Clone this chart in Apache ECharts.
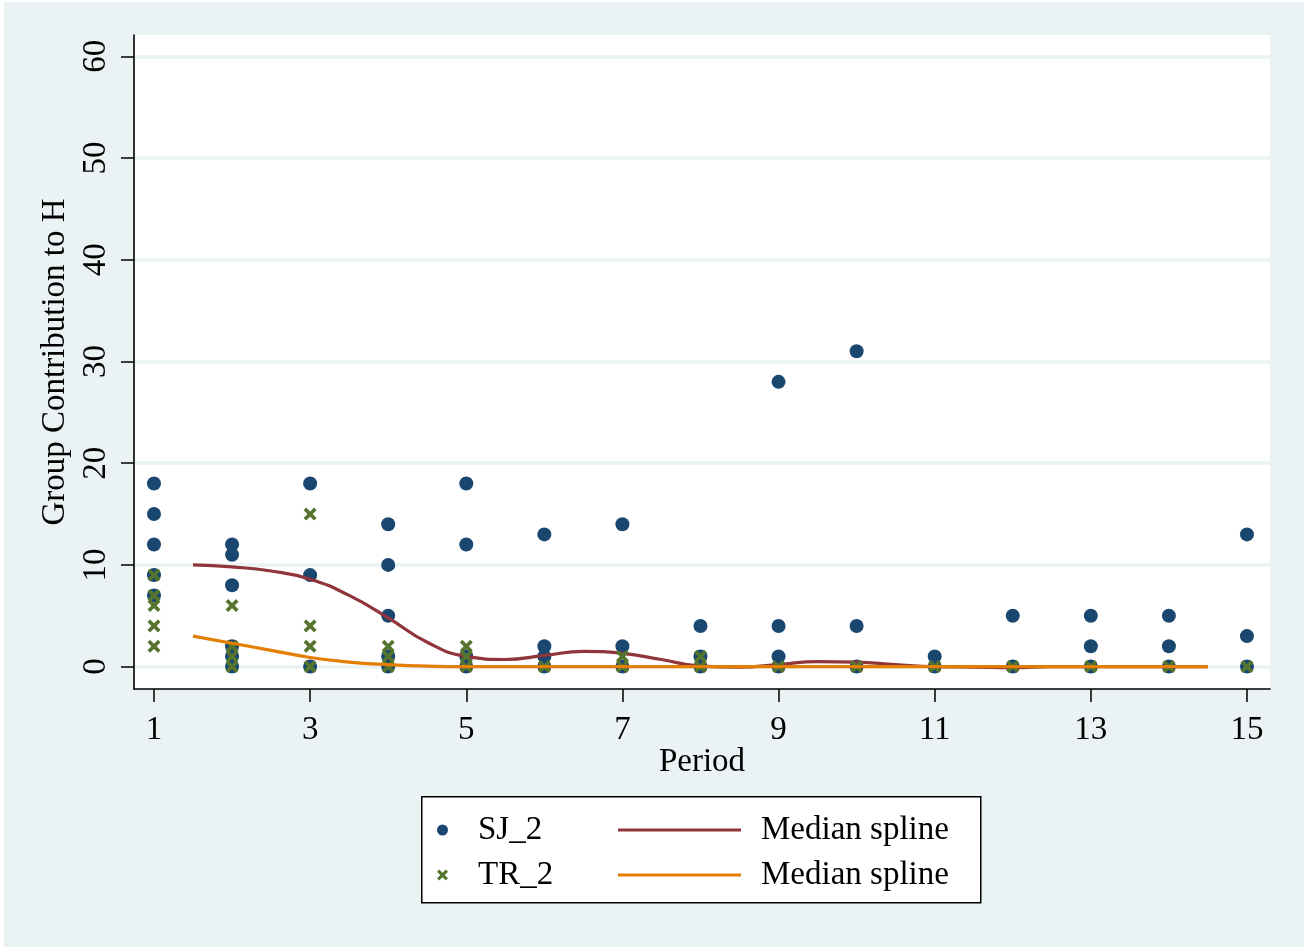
<!DOCTYPE html>
<html>
<head>
<meta charset="utf-8">
<script src="https://cdn.jsdelivr.net/npm/echarts@6/dist/echarts.min.js"></script>
<style>
  html, body { margin: 0; padding: 0; background: #ffffff; }
  #chart { position: absolute; left: 4px; top: 2px; width: 1300px; height: 945px; }
</style>
</head>
<body>
<div id="chart"></div>
<script>
// ---- data ----
const periods = [1, 2, 3, 4, 5, 6, 7, 8, 9, 10, 11, 12, 13, 14, 15];
const sjByPeriod = [
  [18, 15, 12, 9, 7],
  [12, 11, 8, 2, 1, 0],
  [18, 9, 0],
  [14, 10, 5, 1, 0],
  [18, 12, 1, 0],
  [13, 2, 1, 0],
  [14, 2, 0],
  [4, 1, 0],
  [28, 4, 1, 0],
  [31, 4, 0],
  [1, 0],
  [5, 0],
  [5, 2, 0],
  [5, 2, 0],
  [13, 3, 0]
];
const trByPeriod = [
  [9, 7, 6, 4, 2],
  [6, 2, 1, 0],
  [15, 4, 2, 0],
  [2, 1, 0],
  [2, 1, 0],
  [0],
  [1, 0],
  [1, 0],
  [0],
  [0],
  [0],
  [0],
  [0],
  [0],
  [0]
];
const splineX  = [1.5, 2, 2.5, 3, 3.5, 4, 4.5, 5, 5.5, 6, 6.5, 7, 7.5, 8, 8.5, 9, 9.5, 10, 10.5, 11, 11.5, 12, 12.5, 13, 13.5, 14, 14.5];
const sjSpline = [10, 9.8, 9.4, 8.6, 7.0, 4.8, 2.4, 1.0, 0.7, 1.1, 1.5, 1.3, 0.7, 0.05, -0.05, 0.2, 0.5, 0.45, 0.2, 0, -0.05, -0.1, 0, 0, 0, 0, 0];
const trSpline = [3, 2.3, 1.6, 0.9, 0.45, 0.2, 0.05, 0, 0, 0, 0, 0, 0, 0, 0, 0, 0, 0, 0, 0, 0, 0, 0, 0, 0, 0, 0];
const xTicks = [1, 3, 5, 7, 9, 11, 13, 15];
const yTicks = [0, 10, 20, 30, 40, 50, 60];

// ---- build ----
function pairs(periodsArr, groups) {
  const out = [];
  groups.forEach((vals, i) => vals.forEach(v => out.push([periodsArr[i], v])));
  return out;
}
const sjData = pairs(periods, sjByPeriod);
const trData = pairs(periods, trByPeriod);
const sjLine = splineX.map((x, i) => [x, sjSpline[i]]);
const trLine = splineX.map((x, i) => [x, trSpline[i]]);

const FONT = '"Liberation Serif", "Times New Roman", serif';
const NAVY = '#1a476f', MAROON = '#90353b', GREEN = '#55752f', ORANGE = '#e37e00';
const XPATH = 'path://M2,0 L5,3 L8,0 L10,2 L7,5 L10,8 L8,10 L5,7 L2,10 L0,8 L3,5 L0,2 Z';

const chart = echarts.init(document.getElementById('chart'));
chart.setOption({
  animation: false,
  backgroundColor: '#eaf2f3',
  textStyle: { fontFamily: FONT },
  grid: {
    left: 130, right: 34, top: 33, bottom: 258,
    show: true, backgroundColor: '#ffffff', borderWidth: 0
  },
  xAxis: {
    type: 'value',
    min: 0.744, max: 15.295,
    name: 'Period',
    nameLocation: 'middle',
    nameGap: 57,
    nameMoveOverlap: false,
    nameTextStyle: { fontFamily: FONT, fontSize: 33, color: '#000' },
    axisLine: { show: true, onZero: false, lineStyle: { color: '#000', width: 1.6 } },
    axisTick: { show: true, length: 13, customValues: xTicks, lineStyle: { color: '#000', width: 1.5 } },
    axisLabel: { customValues: xTicks, margin: 25, fontFamily: FONT, fontSize: 33, color: '#000' },
    splitLine: { show: false }
  },
  yAxis: {
    type: 'value',
    min: -2.2, max: 62.1,
    name: 'Group Contribution to H',
    nameLocation: 'middle',
    nameGap: 57,
    nameTextStyle: { fontFamily: FONT, fontSize: 33, color: '#000' },
    axisLine: { show: true, onZero: false, lineStyle: { color: '#000', width: 1.6 } },
    axisTick: { show: true, length: 13, customValues: yTicks, lineStyle: { color: '#000', width: 1.5 } },
    axisLabel: { customValues: yTicks, rotate: 90, margin: 21, fontFamily: FONT, fontSize: 33, color: '#000' },
    splitLine: { show: true, lineStyle: { color: '#eaf2f3', width: 3.5 } }
  },
  graphic: [{
    type: 'rect',
    left: 417, top: 794,
    shape: { width: 559, height: 106 },
    style: { fill: '#ffffff', stroke: '#000000', lineWidth: 1.5 },
    z: -1
  }],
  legend: [{
    orient: 'vertical',
    left: 433, top: 810,
    padding: 0,
    itemWidth: 11, itemHeight: 11,
    itemGap: 9,
    textStyle: { fontFamily: FONT, fontSize: 33, color: '#000', lineHeight: 36, padding: [0, 0, 0, 25] },
    data: [
      { name: 'SJ_2', icon: 'circle' },
      { name: 'TR_2', icon: XPATH }
    ]
  }, {
    orient: 'vertical',
    left: 614, top: 810,
    padding: 0,
    itemWidth: 123, itemHeight: 3,
    itemGap: 9,
    textStyle: { fontFamily: FONT, fontSize: 33, color: '#000', lineHeight: 36, padding: [0, 0, 0, 15] },
    formatter: function () { return 'Median spline'; },
    data: [
      { name: 'Median spline (SJ_2)', icon: 'rect' },
      { name: 'Median spline (TR_2)', icon: 'rect' }
    ]
  }],
  series: [
    {
      name: 'SJ_2', type: 'scatter', data: sjData,
      symbol: 'circle', symbolSize: 14,
      itemStyle: { color: NAVY, opacity: 1 }, z: 2
    },
    {
      name: 'Median spline (SJ_2)', type: 'line', data: sjLine,
      symbol: 'none', showSymbol: false, smooth: 0.5,
      lineStyle: { color: MAROON, width: 3.2 }, itemStyle: { color: MAROON }, z: 3
    },
    {
      name: 'TR_2', type: 'scatter', data: trData,
      symbol: XPATH, symbolSize: 13,
      itemStyle: { color: GREEN, opacity: 1 }, z: 4
    },
    {
      name: 'Median spline (TR_2)', type: 'line', data: trLine,
      symbol: 'none', showSymbol: false, smooth: 0.5,
      lineStyle: { color: ORANGE, width: 3.2 }, itemStyle: { color: ORANGE }, z: 5
    }
  ]
});
</script>
</body>
</html>
